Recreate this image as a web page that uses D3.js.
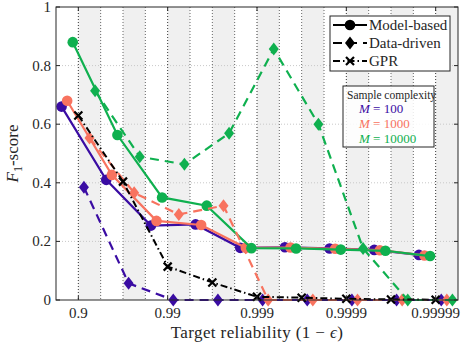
<!DOCTYPE html>
<html>
<head>
<meta charset="utf-8">
<script src="https://cdn.jsdelivr.net/npm/d3@7"></script>
<style>
    body { margin: 0; background: #fff; }
    svg text { fill: #262626; }
</style>
</head>
<body>
<div class="f1-plot"></div>
<script>
// target reliability groups, as -log10(eps)
const groups = [1, 1.5, 2, 2.5, 3, 3.5, 4, 4.5, 5];
const xTicks = [1, 2, 3, 4, 5];
const xTickLabels = ['0.9', '0.99', '0.999', '0.9999', '0.99999'];
const yTicks = [0, 0.2, 0.4, 0.6, 0.8, 1];
const yTickLabels = ['0', '0.2', '0.4', '0.6', '0.8', '1'];

// F1-scores
const modelM100 = [0.66, 0.41, 0.254, 0.258, 0.178, 0.18, 0.176, 0.171, 0.154];
const modelM1000 = [0.68, 0.427, 0.27, 0.256, 0.178, 0.179, 0.175, 0.17, 0.152];
const modelM10000 = [0.88, 0.563, 0.35, 0.322, 0.177, 0.176, 0.172, 0.168, 0.15];
const dataM100 = [0.385, 0.057, 0, 0, 0, 0, 0, 0, 0];
const dataM1000 = [0.553, 0.366, 0.292, 0.322, 0, 0, 0, 0, 0];
const dataM10000 = [0.714, 0.489, 0.463, 0.569, 0.857, 0.6, 0.176, 0, 0];
const gpr = [0.63, 0.404, 0.114, 0.06, 0.011, 0.008, 0.004, 0.002, 0.001];

const sampleSizes = ['100', '1000', '10000'];
const colors = ['#3a0ca3', '#f8735f', '#0fb04f'];

const width = 461;
const height = 351;
const mLeft = 56, mRight = 458, mTop = 7, mBottom = 300;

const x = d3.scaleLinear().domain([0.75, 5.25]).range([mLeft, mRight]);
const y = d3.scaleLinear().domain([0, 1]).range([mBottom, mTop]);

const svg = d3.select('.f1-plot')
    .append('svg')
    .attr('width', width)
    .attr('height', height)
    .attr('font-family', '"Liberation Serif", "DejaVu Serif", serif')

// shaded bands and dotted verticals every quarter decade
const bands = d3.range(1, 5.01, 0.5);
svg.selectAll('.band')
    .data(bands)
    .enter()
    .append('rect')
    .attr('x', d => x(d))
    .attr('y', mTop)
    .attr('width', d => x(d + 0.25) - x(d))
    .attr('height', mBottom - mTop)
    .attr('fill', '#f0f0f0')

svg.selectAll('.vgrid')
    .data(d3.range(1, 5.01, 0.25))
    .enter()
    .append('line')
    .attr('x1', d => x(d))
    .attr('x2', d => x(d))
    .attr('y1', mTop)
    .attr('y2', mBottom)
    .attr('stroke', d => Number.isInteger(d) ? '#333' : '#666')
    .attr('stroke-width', 1)
    .attr('stroke-dasharray', '1,2')

svg.selectAll('.hgrid')
    .data(yTicks.slice(1, -1))
    .enter()
    .append('line')
    .attr('x1', mLeft)
    .attr('x2', mRight)
    .attr('y1', d => y(d))
    .attr('y2', d => y(d))
    .attr('stroke', '#c8c8c8')
    .attr('stroke-dasharray', '1,2')

// series, dodged within each group
const series = [
    { name: 'model100', vals: modelM100, color: colors[0], kind: 'model' },
    { name: 'model1000', vals: modelM1000, color: colors[1], kind: 'model' },
    { name: 'model10000', vals: modelM10000, color: colors[2], kind: 'model' },
    { name: 'gpr', vals: gpr, color: '#000', kind: 'gpr' },
    { name: 'data100', vals: dataM100, color: colors[0], kind: 'data' },
    { name: 'data1000', vals: dataM1000, color: colors[1], kind: 'data' },
    { name: 'data10000', vals: dataM10000, color: colors[2], kind: 'data' }
];
const dodge = d3.scalePoint()
    .domain(series.map(s => s.name))
    .range([-0.1875, 0.1875]);

const dashes = { model: null, data: '9,6', gpr: '7,3,1.5,3' };
const drawOrder = ['model', 'data', 'gpr'];

function marker(g, kind, color, cx, cy) {
    if (kind === 'model') {
        g.append('circle').attr('cx', cx).attr('cy', cy).attr('r', 5.3).attr('fill', color)
    } else if (kind === 'data') {
        g.append('path')
            .attr('d', `M${cx},${cy - 6.5}L${cx + 5},${cy}L${cx},${cy + 6.5}L${cx - 5},${cy}Z`)
            .attr('fill', color)
    } else {
        g.append('path')
            .attr('d', `M${cx - 4},${cy - 4}L${cx + 4},${cy + 4}M${cx - 4},${cy + 4}L${cx + 4},${cy - 4}`)
            .attr('stroke', color)
            .attr('stroke-width', 2.2)
    }
}

drawOrder.forEach(kind => {
    series.filter(s => s.kind === kind).forEach(s => {
        const pts = s.vals.map((v, i) => [x(groups[i] + dodge(s.name)), y(v)]);
        const g = svg.append('g');
        g.append('path')
            .attr('d', d3.line()(pts))
            .attr('fill', 'none')
            .attr('stroke', s.color)
            .attr('stroke-width', kind === 'gpr' ? 2 : 2.2)
            .attr('stroke-dasharray', dashes[kind])
        pts.forEach(p => marker(g, kind, s.color, p[0], p[1]));
    });
});

// frame and ticks
svg.append('rect')
    .attr('x', mLeft)
    .attr('y', mTop)
    .attr('width', mRight - mLeft)
    .attr('height', mBottom - mTop)
    .attr('fill', 'none')
    .attr('stroke', '#262626')
    .attr('stroke-width', 1)

yTicks.forEach(t => {
    svg.append('line').attr('x1', mLeft).attr('x2', mLeft + 4).attr('y1', y(t)).attr('y2', y(t)).attr('stroke', '#262626')
    svg.append('line').attr('x1', mRight - 4).attr('x2', mRight).attr('y1', y(t)).attr('y2', y(t)).attr('stroke', '#262626')
});
xTicks.forEach(t => {
    svg.append('line').attr('x1', x(t)).attr('x2', x(t)).attr('y1', mBottom).attr('y2', mBottom - 4).attr('stroke', '#262626')
    svg.append('line').attr('x1', x(t)).attr('x2', x(t)).attr('y1', mTop).attr('y2', mTop + 4).attr('stroke', '#262626')
});

svg.selectAll('.ytick')
    .data(yTicks)
    .enter()
    .append('text')
    .attr('x', mLeft - 5)
    .attr('y', d => y(d) + 5)
    .attr('text-anchor', 'end')
    .attr('font-size', 15)
    .text((d, i) => yTickLabels[i])

svg.selectAll('.xtick')
    .data(xTicks)
    .enter()
    .append('text')
    .attr('x', d => x(d))
    .attr('y', 318)
    .attr('text-anchor', 'middle')
    .attr('font-size', 15)
    .text((d, i) => xTickLabels[i])

const xlab = svg.append('text')
    .attr('x', (mLeft + mRight) / 2)
    .attr('y', 338)
    .attr('text-anchor', 'middle')
    .attr('font-size', 17)
    .attr('letter-spacing', 0.4)
xlab.append('tspan').text('Target reliability (1 \u2212 ')
xlab.append('tspan').attr('font-style', 'italic').text('\u03f5')
xlab.append('tspan').text(')')

const ylab = svg.append('text')
    .attr('transform', `translate(18,${(mTop + mBottom) / 2}) rotate(-90)`)
    .attr('text-anchor', 'middle')
    .attr('font-size', 17)
ylab.append('tspan').attr('font-style', 'italic').text('F')
ylab.append('tspan').attr('font-size', 12).attr('dy', 4).text('1')
ylab.append('tspan').attr('dy', -4).text('-score')

// method legend
const leg = svg.append('g');
leg.append('rect')
    .attr('x', 330).attr('y', 16).attr('width', 120).attr('height', 55)
    .attr('fill', '#fff').attr('stroke', '#262626')
const methods = [['model', 'Model-based'], ['data', 'Data-driven'], ['gpr', 'GPR']];
methods.forEach((m, i) => {
    const ly = 25 + i * 18;
    leg.append('line')
        .attr('x1', 333).attr('x2', 367).attr('y1', ly).attr('y2', ly)
        .attr('stroke', '#000')
        .attr('stroke-width', 2.2)
        .attr('stroke-dasharray', dashes[m[0]])
    marker(leg, m[0], '#000', 350, ly);
    leg.append('text')
        .attr('x', 369).attr('y', ly + 5)
        .attr('font-size', 15)
        .text(m[1])
});

// sample complexity legend
const leg2 = svg.append('g');
leg2.append('rect')
    .attr('x', 343).attr('y', 86).attr('width', 91).attr('height', 61)
    .attr('fill', '#fff').attr('fill-opacity', 0.85).attr('stroke', '#262626')
leg2.append('text')
    .attr('x', 347).attr('y', 99)
    .attr('font-size', 11.5)
    .text('Sample complexity')
sampleSizes.forEach((m, i) => {
    const t = leg2.append('text')
        .attr('x', 359).attr('y', 113 + i * 15)
        .attr('font-size', 13)
        .style('fill', colors[i])
    t.append('tspan').attr('font-style', 'italic').text('M')
    t.append('tspan').text(' = ' + m)
});
</script>
</body>
</html>
